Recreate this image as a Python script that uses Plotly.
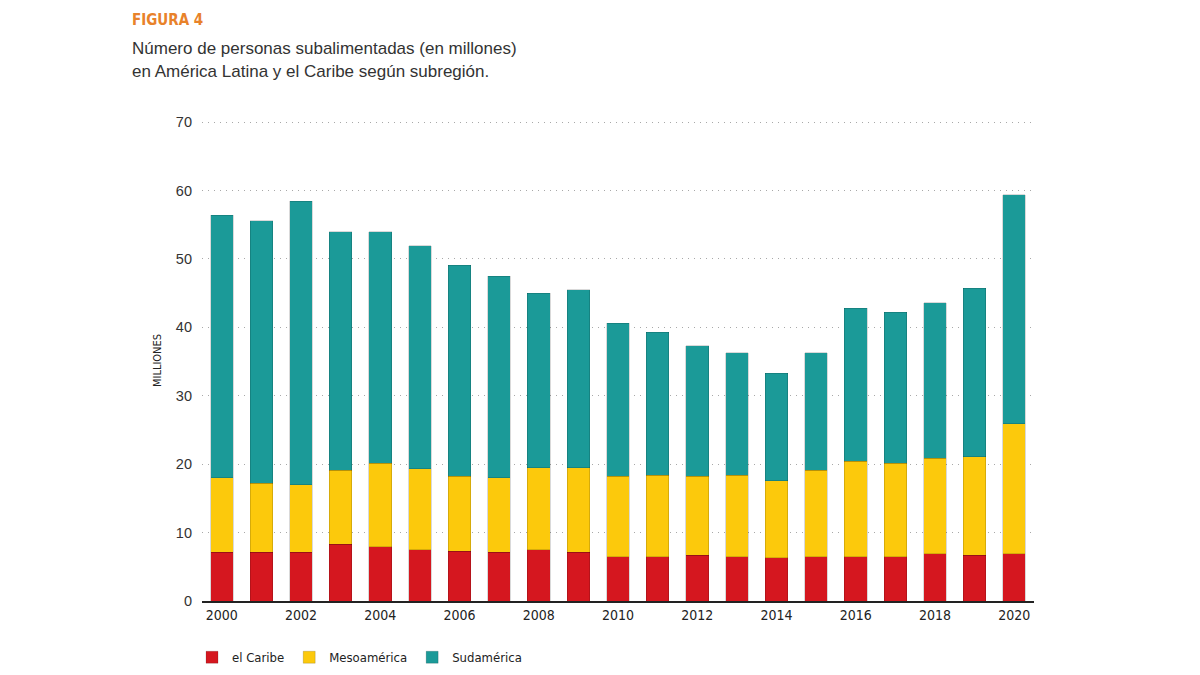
import plotly.graph_objects as go

years = list(range(2000, 2021))
caribe = [7.1, 7.1, 7.1, 8.3, 7.9, 7.5, 7.3, 7.1, 7.5, 7.1, 6.5, 6.5, 6.7, 6.5, 6.3, 6.5, 6.5, 6.5, 6.9, 6.7, 6.9]
mesoamerica = [10.9, 10.1, 9.9, 10.8, 12.2, 11.8, 10.9, 10.9, 12.0, 12.4, 11.7, 11.9, 11.5, 11.9, 11.3, 12.6, 13.9, 13.6, 14.0, 14.4, 19.0]
sudamerica = [38.4, 38.4, 41.4, 34.9, 33.9, 32.6, 30.9, 29.5, 25.5, 26.0, 22.4, 20.9, 19.1, 17.9, 15.7, 17.2, 22.4, 22.1, 22.7, 24.6, 33.5]
x_ticks = list(range(2000, 2021, 2))
y_ticks = [0, 10, 20, 30, 40, 50, 60, 70]

series = [
    ("el Caribe", caribe, "#d5171f"),
    ("Mesoamérica", mesoamerica, "#fcc90c"),
    ("Sudamérica", sudamerica, "#1b9a98"),
]

COND = "DejaVu Sans Condensed, Liberation Sans Narrow, sans-serif"
PLAIN = "Liberation Sans, Arial, sans-serif"

fig = go.Figure()
for name, vals, col in series:
    fig.add_trace(go.Bar(x=years, y=vals, name=name,
                         marker=dict(color=col, line=dict(width=0.6, color="rgba(0,0,0,0.25)"))))

TOP = 120
fig.update_layout(
    barmode="stack",
    bargap=0.43,
    width=1200, height=675,
    paper_bgcolor="white", plot_bgcolor="white",
    margin=dict(l=202, r=166, t=TOP, b=74, autoexpand=False),
    font=dict(family=PLAIN, color="#333"),
    xaxis=dict(
        range=[1999.5, 2020.5], tickvals=x_ticks, ticktext=[str(t) for t in x_ticks],
        showgrid=False, zeroline=False, showline=True, linecolor="#222", linewidth=2,
        ticks="", tickfont=dict(family=COND, size=14, color="#222"),
    ),
    yaxis=dict(
        range=[0, 70.3], tickvals=y_ticks, showgrid=True, gridcolor="#a8a8a8", griddash="1px,5px", gridwidth=1.2,
        zeroline=False, showline=False, ticks="", ticklabelstandoff=9,
        tickfont=dict(family=PLAIN, size=14.5, color="#333"),
        title=dict(text="MILLIONES", font=dict(family=COND, size=11, color="#222"), standoff=12),
    ),
    showlegend=True,
    legend=dict(orientation="h", x=-0.012, y=-0.117, xanchor="left", yanchor="middle",
                font=dict(family=COND, size=13, color="#222"), traceorder="normal",
                itemwidth=30, bgcolor="rgba(0,0,0,0)"),
)

H = 675 - TOP - 74
def py(pix):
    return (601 - pix) / H

fig.add_annotation(text="<b>FIGURA 4</b>", xref="paper", yref="paper", x=-0.0865, y=py(20),
                   xanchor="left", yanchor="middle", showarrow=False,
                   font=dict(family=COND, size=15, color="#e8822a"))
fig.add_annotation(text="Número de personas subalimentadas (en millones)", xref="paper", yref="paper",
                   x=-0.0865, y=py(48), xanchor="left", yanchor="middle", showarrow=False,
                   font=dict(family=PLAIN, size=17, color="#333"))
fig.add_annotation(text="en América Latina y el Caribe según subregión.", xref="paper", yref="paper",
                   x=-0.0865, y=py(71), xanchor="left", yanchor="middle", showarrow=False,
                   font=dict(family=PLAIN, size=17, color="#333"))

fig.write_html("out.html")
